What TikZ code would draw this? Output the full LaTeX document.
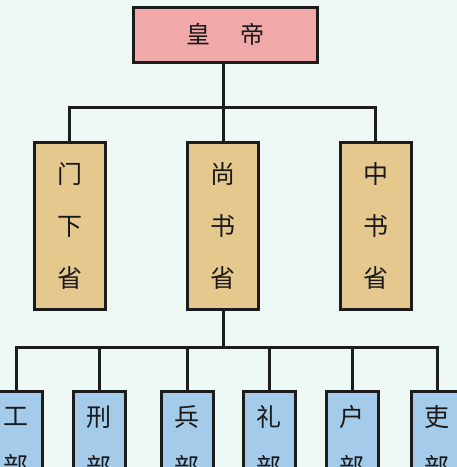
\documentclass[tikz,border=0pt]{standalone}
\usepackage{fontspec}
\setmainfont{Noto Sans CJK SC}
\definecolor{bgc}{HTML}{EDF7F4}
\definecolor{pinkc}{HTML}{F0A8A8}
\definecolor{tanc}{HTML}{E4C88E}
\definecolor{bluec}{HTML}{A5CBEB}
\definecolor{linec}{HTML}{1C1C1C}
\tikzset{
  box/.style={draw=linec, line width=3pt, inner sep=0pt, align=center, text=black!90},
  topbox/.style={box, fill=pinkc, minimum width=184pt, minimum height=55pt, font=\fontsize{24}{28}\selectfont},
  midbox/.style={box, fill=tanc, minimum width=71pt, minimum height=167pt, font=\fontsize{25}{52}\selectfont},
  botbox/.style={box, fill=bluec, minimum width=52pt, minimum height=102pt, font=\fontsize{25}{50}\selectfont},
  conn/.style={draw=linec, line width=3pt}
}
\begin{document}
\begin{tikzpicture}[x=1pt,y=1pt]
\useasboundingbox (0,0) rectangle (457,-467);
\fill[bgc] (0,0) rectangle (457,-467);
\clip (0,0) rectangle (457,-467);
% top
\node[topbox] (emp) at (225,-34.5) {皇\hspace{30pt}帝};
% middle
\node[midbox] (m1) at (69.5,-225.5) {门\\下\\省};
\node[midbox] (m2) at (223,-225.5) {尚\\书\\省};
\node[midbox] (m3) at (375.5,-225.5) {中\\书\\省};
% bottom
\node[botbox] (b1) at (16,-442) {工\\部};
\node[botbox] (b2) at (99,-442) {刑\\部};
\node[botbox] (b3) at (187,-442) {兵\\部};
\node[botbox] (b4) at (269,-442) {礼\\部};
\node[botbox] (b5) at (352,-442) {户\\部};
\node[botbox] (b6) at (437,-442) {吏\\部};
% connectors top
\coordinate (j1) at (223,-107);
\draw[conn] (m2.north |- emp.south) -- (j1);
\draw[conn] (m1.north) |- (j1) -| (m3.north);
\draw[conn] (j1) -- (m2.north);
% connectors bottom
\coordinate (j2) at (223,-347);
\draw[conn] (m2.south) -- (j2);
\draw[conn] (b1.north) |- (j2) -| (b6.north);
\foreach \b in {b2,b3,b4,b5} \draw[conn] (\b.north) -- (\b.north |- j2);
\end{tikzpicture}
\end{document}
